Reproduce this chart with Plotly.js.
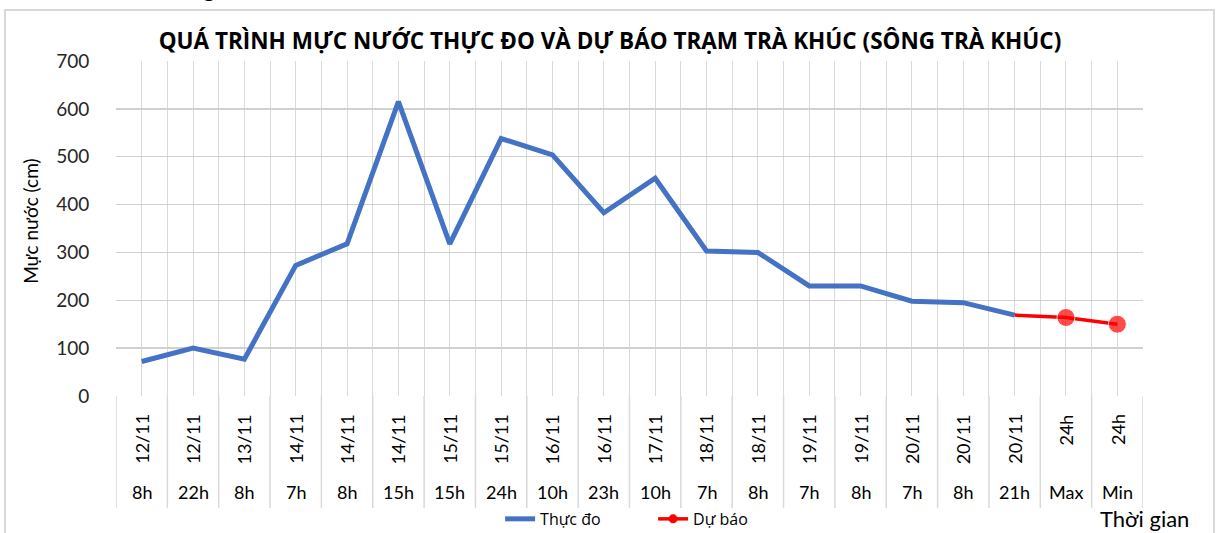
<!DOCTYPE html>
<html>
<head>
<meta charset="utf-8">
<script src="https://cdn.plot.ly/plotly-3.0.1.min.js"></script>
<style>
html,body{margin:0;padding:0;background:#fff;}
#wrap{position:relative;width:1217px;height:533px;overflow:hidden;}
#chart{position:absolute;left:0;top:0;width:1217px;height:533px;}
#frame{position:absolute;left:4px;top:9px;width:1207px;height:600px;border:2px solid #d9d9d9;pointer-events:none;}
</style>
</head>
<body>
<div id="wrap"><div id="chart"></div><div id="frame"></div></div>
<script>
// Category labels (upper rotated level and lower level)
const dateLabels = ['12/11','12/11','13/11','14/11','14/11','14/11','15/11','15/11','16/11','16/11','17/11','18/11','18/11','19/11','19/11','20/11','20/11','20/11','24h','24h'];
const hourLabels = ['8h','22h','8h','7h','8h','15h','15h','24h','10h','23h','10h','7h','8h','7h','8h','7h','8h','21h','Max','Min'];
// Series values (cm)
const measured = [72, 100, 77, 273, 318, 615, 318, 538, 504, 383, 455, 303, 300, 230, 230, 198, 195, 169, null, null];
const forecast = [null, null, null, null, null, null, null, null, null, null, null, null, null, null, null, null, null, 169, 164, 150];
const forecastMarker = [0, 0, 0, 0, 0, 0, 0, 0, 0, 0, 0, 0, 0, 0, 0, 0, 0, 0, 18, 18];

const idx = dateLabels.map((_, i) => i);
const n = dateLabels.length;
const FONT = 'Lato, "Open Sans", sans-serif';
const FONT2 = '"Open Sans", sans-serif';

const traces = [
  {x: idx, y: measured, type: 'scatter', mode: 'lines', name: 'Thực đo',
   line: {color: '#4472C4', width: 5}, connectgaps: false, hoverinfo: 'y'},
  {x: idx, y: forecast, type: 'scatter', mode: 'lines+markers', name: 'Dự báo', showlegend: false,
   line: {color: '#FF0000', width: 3.5}, marker: {color: '#FF0000', size: forecastMarker}, hoverinfo: 'y'},
  // legend entry for the forecast series (line with a dot)
  {x: [null], y: [null], type: 'scatter', mode: 'lines+markers', name: 'Dự báo',
   line: {color: '#FF0000', width: 3.5}, marker: {color: '#FF0000', size: 9}}
];

const annotations = [];
const shapes = [];
for (let i = 0; i < n; i++) {
  annotations.push({x: i, xref: 'x', y: -0.048, yref: 'paper', text: dateLabels[i], textangle: -90,
    showarrow: false, xanchor: 'center', yanchor: 'top', font: {family: FONT, size: 18, color: '#000'}});
  annotations.push({x: i, xref: 'x', y: -0.287, yref: 'paper', text: hourLabels[i],
    showarrow: false, xanchor: 'center', yanchor: 'middle', font: {family: FONT, size: 18, color: '#000'}});
}
for (let i = 0; i <= n; i++) {
  shapes.push({type: 'line', xref: 'x', yref: 'paper', x0: i - 0.5, x1: i - 0.5, y0: 0, y1: -0.334,
    line: {color: '#d9d9d9', width: 1.5}});
}
annotations.push({xref: 'paper', yref: 'paper', x: -0.084, y: 0.522, text: 'Mực nước (cm)', textangle: -90,
  showarrow: false, xanchor: 'center', yanchor: 'middle', font: {family: FONT, size: 19, color: '#000'}});
annotations.push({xref: 'paper', yref: 'paper', x: 1.001, y: -0.409, text: 'Thời gian',
  showarrow: false, xanchor: 'center', yanchor: 'bottom', borderpad: 0, font: {family: FONT, size: 22, color: '#000'}});
annotations.push({xref: 'paper', yref: 'paper', x: 0.085, y: 1.17, text: 'ng',
  showarrow: false, xanchor: 'center', yanchor: 'bottom', font: {family: FONT, size: 22, color: '#000'}});

const layout = {
  width: 1217, height: 533,
  margin: {l: 116, r: 74, t: 61, b: 137, autoexpand: false},
  paper_bgcolor: '#fff', plot_bgcolor: '#fff',
  title: {text: '<b>QUÁ TRÌNH MỰC NƯỚC THỰC ĐO VÀ DỰ BÁO TRẠM TRÀ KHÚC (SÔNG TRÀ KHÚC)</b>',
    font: {family: FONT2, size: 22.5, color: '#000'}, xref: 'paper', x: 0.481, xanchor: 'center',
    yref: 'container', y: 0.923, yanchor: 'middle'},
  xaxis: {range: [-0.5, n - 0.5], tick0: -0.5, dtick: 0.5, showgrid: true, gridcolor: '#d9d9d9', gridwidth: 1,
    showticklabels: false, zeroline: false, showline: false, ticks: '', fixedrange: true},
  yaxis: {range: [0, 700], dtick: 100, showgrid: true, gridcolor: '#d0d0d0', gridwidth: 1.3,
    zeroline: false, showline: false, ticks: 'outside', ticklen: 22, tickcolor: 'rgba(0,0,0,0)',
    tickfont: {family: FONT, size: 19, color: '#262626'}, fixedrange: true},
  showlegend: true,
  legend: {orientation: 'h', x: 0.374, xanchor: 'left', y: -0.367, yanchor: 'middle', entrywidth: 108,
    font: {family: FONT2, size: 16, color: '#000'}, bgcolor: 'rgba(0,0,0,0)', traceorder: 'normal'},
  annotations: annotations,
  shapes: shapes
};

Plotly.newPlot('chart', traces, layout, {displayModeBar: false, staticPlot: true});
</script>
</body>
</html>
